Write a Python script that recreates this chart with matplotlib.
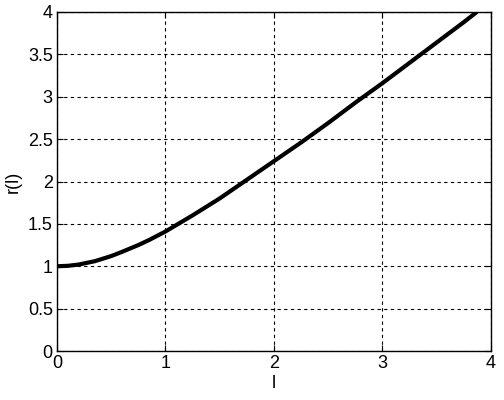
import matplotlib
matplotlib.use("Agg")
import matplotlib.pyplot as plt

# values
l_vals = [0.0, 0.1, 0.2, 0.35, 0.5, 0.6, 0.75, 0.85, 1.0, 1.25, 1.5, 1.75, 2.0,
          2.25, 2.5, 2.75, 3.0, 3.25, 3.5, 3.75, 3.87]
r_vals = [1.0, 1.005, 1.02, 1.06, 1.12, 1.17, 1.25, 1.31, 1.41, 1.60, 1.80, 2.02, 2.24,
          2.46, 2.69, 2.93, 3.16, 3.40, 3.64, 3.88, 4.0]
x_ticks = [0, 1, 2, 3, 4]
y_ticks = [0, 0.5, 1, 1.5, 2, 2.5, 3, 3.5, 4]
y_labels = ["0", "0.5", "1", "1.5", "2", "2.5", "3", "3.5", "4"]

plt.rcParams['font.family'] = ['Liberation Sans', 'DejaVu Sans']

fig = plt.figure(figsize=(5.04, 4.0), dpi=100)
ax = fig.add_axes([0.113, 0.1225, 0.861, 0.8475])

ax.plot(l_vals, r_vals, color="black", linewidth=3, solid_capstyle="butt",
        solid_joinstyle="round")

ax.set_xlim(0, 4)
ax.set_ylim(0, 4)
ax.set_xticks(x_ticks)
ax.set_yticks(y_ticks)
ax.set_yticklabels(y_labels)
ax.tick_params(direction="in", length=4, labelsize=13, top=True, right=True, pad=3)
ax.grid(True, color="black", linestyle=(0, (3, 3)), linewidth=0.8)
for s in ax.spines.values():
    s.set_linewidth(1.0)

ax.set_xlabel("l", fontsize=13, labelpad=2)
ax.set_ylabel("r(l)", fontsize=13, labelpad=4)

fig.savefig("out.png", dpi=100)
